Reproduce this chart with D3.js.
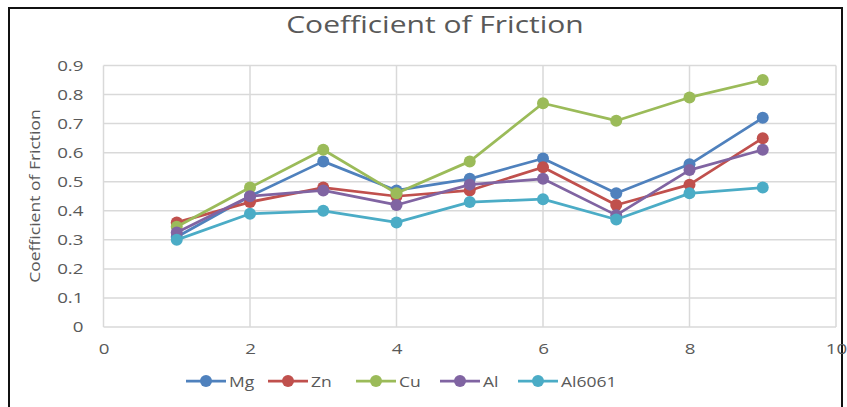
<!DOCTYPE html>
<html>
<head>
<meta charset="utf-8">
<script src="https://cdn.jsdelivr.net/npm/d3@7"></script>
<style>
  html, body { margin: 0; padding: 0; background: #fff; }
  svg { display: block; }
  text { font-family: "Open Sans", "Noto Sans", sans-serif; fill: #595959; }
</style>
</head>
<body>
<svg id="chart" width="847" height="407"></svg>
<script>
// Test runs 1–9
const runs = [1, 2, 3, 4, 5, 6, 7, 8, 9];

// Coefficient of friction per material
const mg     = [0.31, 0.45, 0.57, 0.47, 0.51, 0.58, 0.46, 0.56, 0.72];
const zn     = [0.36, 0.43, 0.48, 0.45, 0.47, 0.55, 0.42, 0.49, 0.65];
const cu     = [0.345, 0.48, 0.61, 0.46, 0.57, 0.77, 0.71, 0.79, 0.85];
const al     = [0.325, 0.45, 0.47, 0.42, 0.49, 0.51, 0.385, 0.54, 0.61];
const al6061 = [0.30, 0.39, 0.40, 0.36, 0.43, 0.44, 0.37, 0.46, 0.48];

const seriesNames  = ["Mg", "Zn", "Cu", "Al", "Al6061"];
const seriesValues = [mg, zn, cu, al, al6061];
const seriesColors = ["#4F81BD", "#C0504D", "#9BBB59", "#8064A2", "#4BACC6"];

const xTicks = [0, 2, 4, 6, 8, 10];
const yTicks = [0, 0.1, 0.2, 0.3, 0.4, 0.5, 0.6, 0.7, 0.8, 0.9];

// text in this chart is set slightly wide
const WIDE = 1.25;
function widen(sel, factor) {
  sel.each(function () {
    const w = this.getComputedTextLength();
    d3.select(this).attr("textLength", w * factor).attr("lengthAdjust", "spacingAndGlyphs");
  });
}

const svg = d3.select("#chart");

// outer frame
svg.append("rect")
  .attr("x", 9).attr("y", 8).attr("width", 833).attr("height", 410)
  .attr("fill", "none").attr("stroke", "#111").attr("stroke-width", 2);

const plot = { left: 103.5, right: 836, top: 65.5, bottom: 327 };

const x = d3.scaleLinear().domain([0, 10]).range([plot.left, plot.right]);
const y = d3.scaleLinear().domain([0, 0.9]).range([plot.bottom, plot.top]);

// gridlines
const grid = svg.append("g");
grid.selectAll("line.h").data(yTicks).join("line")
  .attr("x1", plot.left).attr("x2", plot.right)
  .attr("y1", d => y(d)).attr("y2", d => y(d))
  .attr("stroke", "#d9d9d9").attr("stroke-width", 1.5);
grid.selectAll("line.v").data(xTicks).join("line")
  .attr("x1", d => x(d)).attr("x2", d => x(d))
  .attr("y1", plot.top).attr("y2", plot.bottom)
  .attr("stroke", "#d9d9d9").attr("stroke-width", 1.5);

// axes (labels only; lines come from the grid)
const xAxis = svg.append("g")
  .attr("transform", `translate(0,${plot.bottom})`)
  .call(d3.axisBottom(x).tickValues(xTicks).tickSize(0).tickPadding(16).tickFormat(d3.format("d")));
const yAxis = svg.append("g")
  .attr("transform", `translate(${plot.left},0)`)
  .call(d3.axisLeft(y).tickValues(yTicks).tickSize(0).tickPadding(20).tickFormat(d => d === 0 ? "0" : d3.format(".1f")(d)));
[xAxis, yAxis].forEach(a => {
  a.select(".domain").remove();
  a.selectAll("text").attr("font-size", 15).attr("fill", "#595959")
    .style("font-family", "'Open Sans', sans-serif");
  widen(a.selectAll("text"), WIDE);
});

// series lines and markers
const line = d3.line().x((d, i) => x(runs[i])).y(d => y(d));
seriesValues.forEach((vals, k) => {
  const g = svg.append("g");
  g.append("path").datum(vals)
    .attr("d", line).attr("fill", "none")
    .attr("stroke", seriesColors[k]).attr("stroke-width", 2.75)
    .attr("stroke-linejoin", "round");
  g.selectAll("circle").data(vals).join("circle")
    .attr("cx", (d, i) => x(runs[i])).attr("cy", d => y(d))
    .attr("r", 6).attr("fill", seriesColors[k]);
});

// title
const title = svg.append("text")
  .attr("x", 435).attr("y", 33).attr("text-anchor", "middle")
  .attr("font-size", 24).text("Coefficient of Friction");
widen(title, WIDE);

// y axis title
const yTitle = svg.append("text")
  .attr("transform", "translate(40,196) rotate(-90)")
  .attr("text-anchor", "middle").attr("font-size", 14)
  .text("Coefficient of Friction");
widen(yTitle, WIDE);

// legend
const legendX = [186, 268, 356, 440, 518];
const legend = svg.append("g").attr("transform", "translate(0,381)");
seriesNames.forEach((name, k) => {
  const g = legend.append("g").attr("transform", `translate(${legendX[k]},0)`);
  g.append("line").attr("x1", 0).attr("x2", 40).attr("y1", 0).attr("y2", 0)
    .attr("stroke", seriesColors[k]).attr("stroke-width", 2.75);
  g.append("circle").attr("cx", 20).attr("cy", 0).attr("r", 6).attr("fill", seriesColors[k]);
  const t = g.append("text").attr("x", 43).attr("y", 5.5).attr("font-size", 14).text(name);
  widen(t, WIDE);
});
</script>
</body>
</html>
